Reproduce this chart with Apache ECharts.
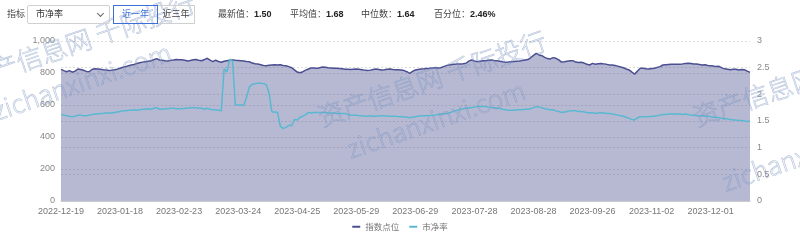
<!DOCTYPE html>
<html><head><meta charset="utf-8">
<script src="https://cdn.jsdelivr.net/npm/echarts@6/dist/echarts.min.js"></script>
<style>
html,body{margin:0;padding:0;background:#fff;}
#wrap{position:relative;width:800px;height:240px;font-family:"Liberation Sans","Noto Sans CJK SC",sans-serif;}
#chart{position:absolute;left:0;top:0;width:800px;height:240px;}
.t{position:absolute;font-size:9px;color:#444;line-height:19px;white-space:nowrap;}
.box{position:absolute;box-sizing:border-box;height:19px;top:5px;font-size:9px;line-height:17px;}
b{color:#222;font-weight:bold;}
</style></head>
<body><div id="wrap">
<div id="chart"></div>
<div class="t" style="left:7px;top:5px;">指标</div>
<div class="box" style="left:27px;width:83px;border:1px solid #d0d0d0;border-radius:2px;color:#333;padding-left:8px;">市净率
  <span style="position:absolute;left:70px;top:5px;width:4px;height:4px;border-right:1px solid #666;border-bottom:1px solid #666;transform:rotate(45deg);"></span></div>
<div class="box" style="left:113px;width:45px;border:1px solid #3c6fd8;color:#3c6fd8;text-align:center;">近一年</div>
<div class="box" style="left:158px;width:37px;border:1px solid #d0d0d0;border-left:none;color:#444;text-align:center;">近三年</div>
<div class="t" style="left:218px;top:5px;">最新值：<b id="v1"></b></div>
<div class="t" style="left:290px;top:5px;">平均值：<b id="v2"></b></div>
<div class="t" style="left:361px;top:5px;">中位数：<b id="v3"></b></div>
<div class="t" style="left:434px;top:5px;">百分位：<b id="v4"></b></div>
</div>
<script>
// trading days by month
const tradingMonths = [
 ['2022-12',[19,20,21,22,23,26,27,28,29,30]],
 ['2023-01',[3,4,5,6,9,10,11,12,13,16,17,18,19,20,30,31]],
 ['2023-02',[1,2,3,6,7,8,9,10,13,14,15,16,17,20,21,22,23,24,27,28]],
 ['2023-03',[1,2,3,6,7,8,9,10,13,14,15,16,17,20,21,22,23,24,27,28,29,30,31]],
 ['2023-04',[3,4,6,7,10,11,12,13,14,17,18,19,20,21,24,25,26,27,28]],
 ['2023-05',[4,5,8,9,10,11,12,15,16,17,18,19,22,23,24,25,26,29,30,31]],
 ['2023-06',[1,2,5,6,7,8,9,12,13,14,15,16,19,20,21,26,27,28,29,30]],
 ['2023-07',[3,4,5,6,7,10,11,12,13,14,17,18,19,20,21,24,25,26,27,28,31]],
 ['2023-08',[1,2,3,4,7,8,9,10,11,14,15,16,17,18,21,22,23,24,25,28,29,30,31]],
 ['2023-09',[1,4,5,6,7,8,11,12,13,14,15,18,19,20,21,22,25,26,27,28]],
 ['2023-10',[9,10,11,12,13,16,17,18,19,20,23,24,25,26,27,30,31]],
 ['2023-11',[1,2,3,6,7,8,9,10,13,14,15,16,17,20,21,22,23,24,27,28,29,30]],
 ['2023-12',[1,4,5,6,7,8,11,12,13,14,15,18,19,20,21]]
];
const categories = [];
tradingMonths.forEach(function(m){ m[1].forEach(function(d){ categories.push(m[0] + '-' + (d < 10 ? '0' + d : '' + d)); }); });

const indexValues = [
 823,815,808,815,805,812,825,822,817,810,
 808,822,826,825,823,820,818,816,817,820,
 824,830,836,840,845,850,853,860,864,868,
 871,874,877,883,890,881,880,877,875,879,
 881,884,883,883,880,875,878,883,884,880,
 877,884,892,880,871,880,872,867,873,877,
 880,882,879,878,877,875,872,870,862,858,
 856,852,847,846,849,850,851,850,851,847,
 845,840,833,820,806,802,808,818,825,832,
 831,829,833,837,836,833,832,830,829,828,
 826,824,823,822,824,825,823,821,818,815,
 818,822,825,822,819,821,824,825,822,821,
 820,819,815,808,798,810,819,822,825,826,
 828,829,831,833,832,833,840,846,850,853,
 855,856,857,858,861,874,881,875,871,874,
 876,877,879,881,878,876,874,870,867,868,
 870,872,874,875,878,881,884,895,910,923,
 913,908,898,890,888,896,892,882,868,870,
 874,876,877,868,866,867,862,855,850,860,
 855,858,860,857,854,850,850,847,843,838,
 833,825,819,805,793,812,830,829,826,825,
 828,830,835,840,850,852,853,854,855,854,
 855,857,860,861,859,857,856,853,850,852,
 847,845,843,840,842,832,826,824,821,824,
 823,819,822,821,812,804
];
const pbValues = [
 1.62,1.61,1.60,1.59,1.58,1.59,1.61,1.61,1.60,1.60,
 1.61,1.62,1.63,1.63,1.64,1.64,1.65,1.65,1.65,1.66,
 1.67,1.68,1.69,1.69,1.70,1.70,1.71,1.70,1.71,1.72,
 1.72,1.73,1.72,1.74,1.75,1.72,1.72,1.73,1.73,1.74,
 1.74,1.73,1.73,1.73,1.74,1.74,1.75,1.75,1.75,1.74,
 1.74,1.72,1.74,1.72,1.71,1.71,1.70,1.69,2.48,2.42,
 2.66,2.62,1.80,1.80,1.80,1.79,1.95,2.14,2.19,2.20,
 2.21,2.21,2.20,2.18,2.02,1.67,1.67,1.66,1.40,1.36,
 1.38,1.42,1.41,1.53,1.52,1.57,1.59,1.62,1.66,1.65,
 1.66,1.66,1.66,1.66,1.66,1.65,1.65,1.65,1.64,1.64,
 1.64,1.64,1.62,1.61,1.61,1.61,1.60,1.60,1.59,1.59,
 1.60,1.59,1.59,1.60,1.60,1.60,1.59,1.59,1.59,1.59,
 1.58,1.58,1.58,1.57,1.56,1.57,1.58,1.59,1.60,1.60,
 1.60,1.60,1.61,1.61,1.62,1.63,1.63,1.64,1.65,1.67,
 1.69,1.70,1.72,1.73,1.74,1.75,1.75,1.76,1.77,1.77,
 1.77,1.77,1.76,1.75,1.75,1.74,1.74,1.72,1.71,1.70,
 1.70,1.70,1.71,1.71,1.71,1.72,1.72,1.73,1.75,1.77,
 1.76,1.75,1.73,1.72,1.71,1.71,1.69,1.68,1.66,1.67,
 1.68,1.69,1.69,1.69,1.68,1.68,1.67,1.66,1.65,1.66,
 1.64,1.65,1.66,1.65,1.64,1.64,1.63,1.62,1.61,1.60,
 1.59,1.57,1.55,1.53,1.52,1.56,1.58,1.58,1.58,1.58,
 1.59,1.59,1.60,1.61,1.62,1.62,1.63,1.63,1.63,1.63,
 1.63,1.62,1.63,1.62,1.61,1.61,1.60,1.60,1.60,1.59,
 1.59,1.58,1.57,1.57,1.56,1.55,1.54,1.54,1.53,1.52,
 1.52,1.51,1.51,1.50,1.49,1.50
];
const seriesNames = ['指数点位', '市净率'];
const statLabels = ['1.50', '1.68', '1.64', '2.46%'];
document.getElementById('v1').textContent = statLabels[0];
document.getElementById('v2').textContent = statLabels[1];
document.getElementById('v3').textContent = statLabels[2];
document.getElementById('v4').textContent = statLabels[3];

const wmLine1 = '资产信息网 千际投行';
const wmLine2 = 'zichanxinxi.com';
const rot = 19 * Math.PI / 180;
function wm(x, y, txt, size){
  return {type:'text', x:x, y:y, rotation:rot, z:100, silent:true,
    style:{text:txt, fill:'rgba(160,178,210,0.10)', stroke:'rgba(120,145,190,0.55)', lineWidth:0.6,
      font:'300 ' + size + 'px "Noto Sans CJK SC", "Liberation Sans"', verticalAlign:'bottom'}};
}

const chart = echarts.init(document.getElementById('chart'), null, {renderer:'canvas'});
const axisFont = {color:'#888', fontSize:9, fontFamily:'"Liberation Sans","Noto Sans CJK SC",sans-serif'};
chart.setOption({
  animation:false,
  grid:{left:61, right:50, top:41, bottom:39},
  legend:{bottom:4, left:'center', itemWidth:8, itemHeight:2, itemGap:10, icon:'rect',
    textStyle:{color:'#777', fontSize:8.5, fontFamily:'"Noto Sans CJK SC",sans-serif'},
    data:seriesNames},
  xAxis:{type:'category', data:categories, boundaryGap:false,
    axisLine:{lineStyle:{color:'#ccc'}}, axisTick:{show:false},
    axisLabel:Object.assign({interval:20, margin:6}, axisFont, {color:'#777'})},
  yAxis:[
    {type:'value', min:0, max:1000, interval:200, position:'left',
     axisLabel:Object.assign({margin:6, formatter:function(v){return v.toLocaleString('en-US');}}, axisFont),
     splitLine:{lineStyle:{color:'#ddd', type:[2,2]}}},
    {type:'value', min:0, max:3, interval:0.5, position:'right',
     axisLabel:Object.assign({margin:7}, axisFont),
     splitLine:{lineStyle:{color:'#ddd', type:[2,2]}}}
  ],
  series:[
    {name:seriesNames[0], type:'line', yAxisIndex:0, data:indexValues, symbol:'none',
     lineStyle:{width:1.5, color:'#4b4f91'}, itemStyle:{color:'#4b4f91'},
     areaStyle:{color:'#4b4f91', opacity:0.4}},
    {name:seriesNames[1], type:'line', yAxisIndex:1, data:pbValues, symbol:'none',
     lineStyle:{width:1.5, color:'#5ab8d2'}, itemStyle:{color:'#5ab8d2'}}
  ],
  graphic:[
    wm(-28, 92, wmLine1, 26), wm(-2, 124, wmLine2, 26),
    wm(323, 130, wmLine1, 26), wm(352, 162, wmLine2, 26),
    wm(698, 130, wmLine1, 26), wm(727, 195, wmLine2, 26)
  ]
});
</script>
</body></html>
